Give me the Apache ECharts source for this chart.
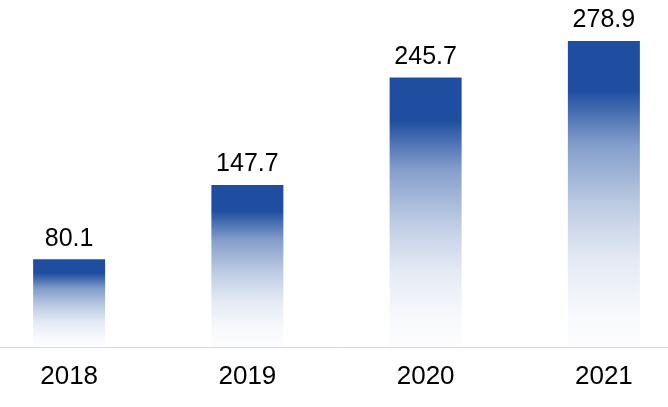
<!DOCTYPE html>
<html>
<head>
<meta charset="utf-8">
<script src="https://cdn.jsdelivr.net/npm/echarts@6/dist/echarts.min.js"></script>
<style>
html,body{margin:0;padding:0;background:#fff;overflow:hidden;width:668px;height:407px;}
#chart{position:absolute;left:-20px;top:0;width:713px;height:407px;}
</style>
</head>
<body>
<div id="chart"></div>
<script>
const categories = ['2018', '2019', '2020', '2021'];
const values = [80.1, 147.7, 245.7, 278.9];

const chart = echarts.init(document.getElementById('chart'));
const font = '"Liberation Sans", Arial, sans-serif';
chart.setOption({
  animation: false,
  backgroundColor: '#ffffff',
  grid: { left: 0, right: 0, top: 0, bottom: 60, containLabel: false },
  xAxis: {
    type: 'category',
    data: categories,
    axisLine: { show: true, lineStyle: { color: '#d9d9d9', width: 1 } },
    axisTick: { show: false },
    axisLabel: { color: '#000', fontSize: 26, fontFamily: font, margin: 17 }
  },
  yAxis: {
    type: 'value',
    min: 0,
    max: 316.3,
    show: false,
    splitLine: { show: false }
  },
  series: [{
    type: 'bar',
    data: values,
    barWidth: 72,
    itemStyle: {
      color: new echarts.graphic.LinearGradient(0, 0, 0, 1, [
        { offset: 0, color: '#1f4ea0' },
        { offset: 0.16, color: '#1f4ea0' },
        { offset: 0.34, color: 'rgba(31,78,160,0.55)' },
        { offset: 0.53, color: 'rgba(31,78,160,0.3)' },
        { offset: 0.71, color: 'rgba(31,78,160,0.12)' },
        { offset: 0.9, color: 'rgba(31,78,160,0.03)' },
        { offset: 1, color: 'rgba(31,78,160,0.01)' }
      ])
    },
    label: {
      show: true,
      position: 'top',
      distance: 8,
      color: '#000',
      fontSize: 25,
      fontFamily: font
    }
  }]
});
</script>
</body>
</html>
